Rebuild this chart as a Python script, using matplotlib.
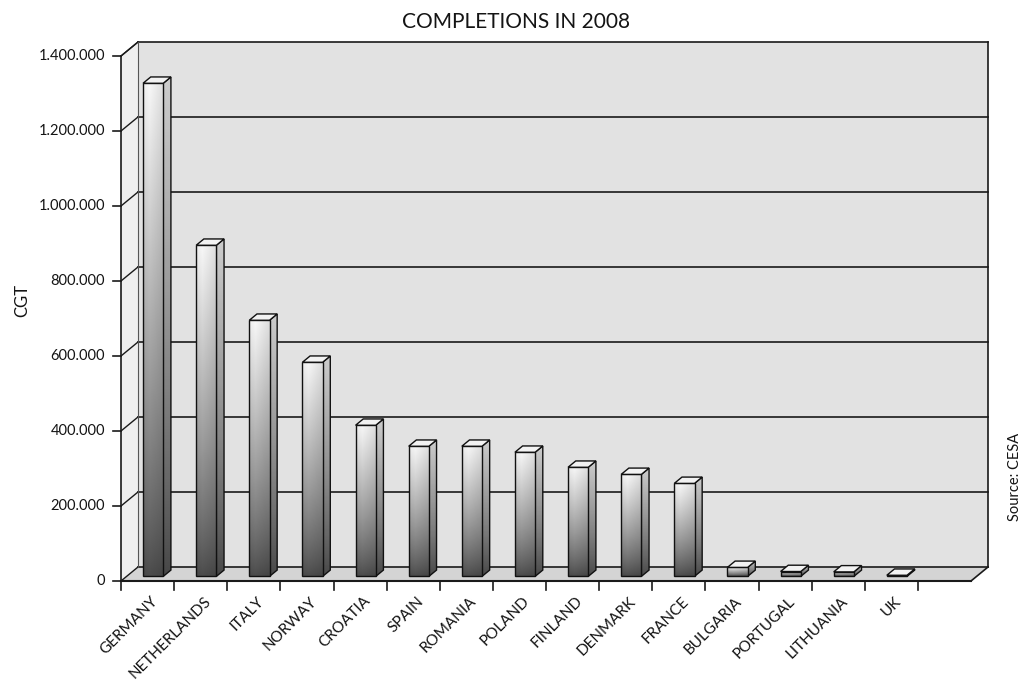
import numpy as np
import matplotlib.pyplot as plt
from matplotlib.patches import Polygon
from matplotlib.transforms import IdentityTransform

plt.rcParams['font.family'] = ['Lato', 'DejaVu Sans']

# data
countries = ["GERMANY", "NETHERLANDS", "ITALY", "NORWAY", "CROATIA", "SPAIN",
             "ROMANIA", "POLAND", "FINLAND", "DENMARK", "FRANCE", "BULGARIA",
             "PORTUGAL", "LITHUANIA", "UK"]
cgt = [1315000, 883000, 683000, 571000, 403000, 347000, 347000, 331000,
       291000, 272000, 248000, 24000, 13000, 12000, 3000]
yticks = [0, 200000, 400000, 600000, 800000, 1000000, 1200000, 1400000]
ytick_labels = ["0", "200.000", "400.000", "600.000", "800.000",
                "1.000.000", "1.200.000", "1.400.000"]
nslots = len(countries) + 1
ymax = 1400000

fig = plt.figure(figsize=(10.23, 6.87), dpi=100, facecolor="white")
ax = fig.add_axes([121 / 1023, 106 / 687, 850 / 1023, 525 / 687])
ax.set_xlim(0, nslots)
ax.set_ylim(0, ymax)
ax.set_autoscale_on(False)
ax.axis("off")

# depth of the 3d box, pixels
DX, DY = 17, 14
ID = IdentityTransform()
TXT = "#141414"


def P(x, y, d=0.0):
    px, py = ax.transData.transform((x, y))
    return (px + d * DX, py + d * DY)


def poly(pts, fc, ec="none", lw=0.0, z=1):
    p = Polygon(pts, closed=True, fc=fc, ec=ec, lw=lw, transform=ID,
                clip_on=False, zorder=z)
    ax.add_patch(p)
    return p


def line(a, b, lw=1.0, c="#1a1a1a", z=2):
    ax.add_line(plt.Line2D([a[0], b[0]], [a[1], b[1]], transform=ID, color=c,
                           lw=lw, clip_on=False, zorder=z))


def grad_face(pts, top, bottom, z, hshade=0.0):
    pts = np.array(pts)
    x0, y0 = pts.min(axis=0)
    x1, y1 = pts.max(axis=0)
    t = np.linspace(0, 1, 80)[:, None]
    u = np.linspace(0, 1, 24)[None, :]
    g = bottom + (top - bottom) * t ** 0.85
    g = g * (1 - hshade * np.abs(u - 0.3))
    im = ax.imshow(np.clip(g, 0, 1), cmap="gray", vmin=0, vmax=1,
                   extent=(x0, x1, y0, y1), origin="lower", aspect="auto",
                   transform=ID, zorder=z, interpolation="bilinear")
    clip = Polygon(pts, closed=True, transform=ID)
    im.set_clip_box(fig.bbox)
    im.set_clip_path(clip)
    poly(pts, "none", ec="#111111", lw=1.0, z=z + 0.01)


# back wall
poly([P(0, 0, 1), P(nslots, 0, 1), P(nslots, ymax, 1), P(0, ymax, 1)],
     "#e2e2e2", z=0.5)
# left side wall
poly([P(0, 0, 0), P(0, ymax, 0), P(0, ymax, 1), P(0, 0, 1)], "#efefef", z=0.6)
# floor
poly([P(0, 0, 0), P(nslots, 0, 0), P(nslots, 0, 1), P(0, 0, 1)], "#d4d4d4",
     z=0.7)

for y in yticks:
    line(P(0, y, 1), P(nslots, y, 1), lw=1.2, z=0.8)
    line(P(0, y, 0), P(0, y, 1), lw=1.0, z=0.8)
line(P(0, ymax, 0), P(0, ymax, 1), lw=1.0, z=0.8)
line(P(0, 0, 1), P(0, ymax, 1), lw=0.8, c="#555555", z=0.8)
line(P(nslots, 0, 1), P(nslots, ymax, 1), lw=1.2, z=0.8)
line(P(nslots, 0, 0), P(nslots, 0, 1), lw=1.2, z=0.8)

# front axes
line(P(0, 0), P(0, ymax), lw=1.2, z=5)
line(P(0, 0), P(nslots, 0), lw=1.5, z=5)
for y, lab in zip(yticks, ytick_labels):
    x0, y0 = P(0, y)
    line((x0 - 8, y0), (x0, y0), lw=1.2, z=5)
    fig.text(x0 - 16, y0, lab, transform=ID, ha="right", va="center",
             fontsize=10.5, color=TXT)
for i in range(nslots):
    x0, y0 = P(i, 0)
    line((x0, y0), (x0, y0 - 9), lw=1.2, z=5)

# bars
w, d0, d1 = 0.19, 0.33, 0.78
for i, (name, v) in enumerate(zip(countries, cgt)):
    xc = i + 0.5
    z = 3 + i * 0.05
    front = [P(xc - w, 0, d0), P(xc + w, 0, d0), P(xc + w, v, d0),
             P(xc - w, v, d0)]
    side = [P(xc + w, 0, d0), P(xc + w, 0, d1), P(xc + w, v, d1),
            P(xc + w, v, d0)]
    top = [P(xc - w, v, d0), P(xc + w, v, d0), P(xc + w, v, d1),
           P(xc - w, v, d1)]
    grad_face(side, 0.80, 0.28, z)
    grad_face(front, 0.97, 0.30, z + 0.02, hshade=0.15)
    poly(top, "#f2f2f2", ec="#111111", lw=1.0, z=z + 0.04)

    lx, ly = P(xc, 0)
    fig.text(lx + 3, ly - 13, name, transform=ID, rotation=45,
             rotation_mode="anchor", ha="right", va="top", fontsize=11,
             color=TXT)

fig.text(516 / 1023, 1 - 22 / 687, "COMPLETIONS IN 2008", ha="center",
         va="center", fontsize=15, color=TXT)
fig.text(22 / 1023, 1 - 300 / 687, "CGT", rotation=90, ha="center",
         va="center", fontsize=12, color=TXT)
fig.text(1015 / 1023, 1 - 477 / 687, "Source: CESA", rotation=90,
         ha="center", va="center", fontsize=10.5, color=TXT)

fig.savefig("out.png", dpi=100)
